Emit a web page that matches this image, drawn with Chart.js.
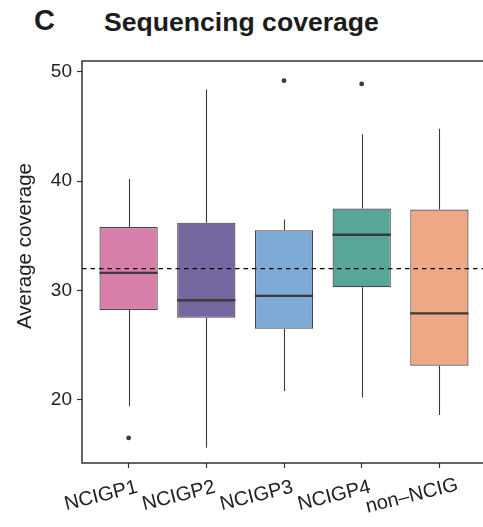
<!DOCTYPE html>
<html>
<head>
<meta charset="utf-8">
<script src="https://cdn.jsdelivr.net/npm/chart.js@4.4.1/dist/chart.umd.min.js"></script>
<style>
  html, body { margin: 0; padding: 0; background: #ffffff; overflow: hidden; }
  #wrap { position: relative; width: 483px; height: 527px; overflow: hidden; }
  #plot { position: absolute; left: 0; top: 0; width: 490px; height: 527px; }
  .tag, .heading {
    position: absolute; margin: 0; line-height: 1; white-space: nowrap;
    font-family: "Liberation Sans", Arial, Helvetica, sans-serif; font-weight: bold; color: #1c1c1c;
  }
  .tag { left: 34px; top: 6px; font-size: 29px; }
  .heading { left: 104px; top: 9px; font-size: 26.6px; }
</style>
</head>
<body>
<div id="wrap">
  <div class="tag">C</div>
  <div class="heading">Sequencing coverage</div>
  <div id="plot"><canvas id="chart" width="490" height="527"></canvas></div>
</div>
<script>
// Groups along the x axis
const categories = ['NCIGP1', 'NCIGP2', 'NCIGP3', 'NCIGP4', 'non\u2013NCIG'];

// Five-number summaries of average coverage per group
const whiskerLow  = [19.4, 15.6, 20.8, 20.2, 18.6];
const quartile1   = [28.2, 27.5, 26.5, 30.3, 23.1];
const medians     = [31.6, 29.1, 29.5, 35.1, 27.9];
const quartile3   = [35.8, 36.2, 35.5, 37.5, 37.4];
const whiskerHigh = [40.2, 48.4, 36.5, 44.3, 44.8];

// Points beyond the whiskers: group index and value
const outlierGroup = [0, 2, 3];
const outlierValue = [16.5, 49.2, 48.9];

// Overall mean coverage reference
const referenceLine = 32;

const yTicks = [20, 30, 40, 50];
const yTitle = 'Average coverage';
const fillColors = ['#D77FAA', '#7667A0', '#7EAAD6', '#58A59A', '#EFA885'];

const FONT = '"Liberation Sans", Arial, Helvetica, sans-serif';
const INK = '#3b3b3b';
const LABEL_ANGLE = 14 * Math.PI / 180;

// Whiskers, medians, the dashed reference line, the panel frame and axis texts
const boxExtras = {
  id: 'boxExtras',
  beforeDatasetsDraw(chart) {
    const { ctx, scales: { x, y } } = chart;
    ctx.save();
    ctx.strokeStyle = INK;
    ctx.lineWidth = 1.1;
    categories.forEach((_, i) => {
      const px = Math.round(x.getPixelForValue(i + 1)) + 0.5;
      ctx.beginPath();
      ctx.moveTo(px, y.getPixelForValue(whiskerHigh[i]));
      ctx.lineTo(px, y.getPixelForValue(quartile3[i]));
      ctx.moveTo(px, y.getPixelForValue(quartile1[i]));
      ctx.lineTo(px, y.getPixelForValue(whiskerLow[i]));
      ctx.stroke();
    });
    ctx.restore();
  },
  afterDatasetsDraw(chart) {
    const { ctx, chartArea: a, scales: { y } } = chart;
    const meta = chart.getDatasetMeta(0);
    ctx.save();
    ctx.strokeStyle = INK;
    ctx.lineWidth = 2.4;
    meta.data.forEach((bar, i) => {
      const half = bar.width / 2;
      const py = y.getPixelForValue(medians[i]);
      ctx.beginPath();
      ctx.moveTo(bar.x - half, py);
      ctx.lineTo(bar.x + half, py);
      ctx.stroke();
    });
    const ry = y.getPixelForValue(referenceLine);
    ctx.strokeStyle = '#000000';
    ctx.lineWidth = 1.2;
    ctx.setLineDash([4.5, 4]);
    ctx.beginPath();
    ctx.moveTo(a.left, ry);
    ctx.lineTo(a.right, ry);
    ctx.stroke();
    ctx.setLineDash([]);
    ctx.strokeStyle = '#333333';
    ctx.lineWidth = 1.5;
    ctx.strokeRect(a.left, a.top, a.right - a.left, a.bottom - a.top);
    ctx.restore();
  },
  afterDraw(chart) {
    const { ctx, chartArea: a, scales: { x } } = chart;
    ctx.save();
    ctx.fillStyle = '#222222';
    // y axis title
    ctx.save();
    ctx.translate(25, (a.top + a.bottom) / 2 - 16);
    ctx.rotate(-Math.PI / 2);
    ctx.textAlign = 'center';
    ctx.textBaseline = 'middle';
    ctx.font = '20.5px ' + FONT;
    ctx.fillText(yTitle, 0, 0);
    ctx.restore();
    // slanted group names under the x axis
    ctx.font = '20px ' + FONT;
    ctx.textAlign = 'center';
    ctx.textBaseline = 'middle';
    categories.forEach((name, i) => {
      ctx.save();
      ctx.translate(x.getPixelForValue(i + 1) - 27.5, a.bottom + 33);
      ctx.rotate(-LABEL_ANGLE);
      ctx.fillText(name, 0, 0);
      ctx.restore();
    });
    ctx.restore();
  }
};

new Chart(document.getElementById('chart'), {
  type: 'bar',
  data: {
    datasets: [
      {
        label: 'IQR',
        data: categories.map((_, i) => ({ x: i + 1, y: [quartile1[i], quartile3[i]] })),
        backgroundColor: fillColors,
        borderColor: '#474747',
        borderWidth: 1.2,
        borderSkipped: false,
        categoryPercentage: 1,
        barPercentage: 0.75,
        order: 2
      },
      {
        type: 'scatter',
        label: 'Outliers',
        data: outlierGroup.map((g, k) => ({ x: g + 1, y: outlierValue[k] })),
        pointRadius: 2.4,
        pointBackgroundColor: INK,
        pointBorderWidth: 0,
        order: 1
      }
    ]
  },
  options: {
    responsive: false,
    animation: false,
    devicePixelRatio: 1,
    layout: { padding: { left: 0, top: 61, right: 2.6, bottom: 0 } },
    plugins: { legend: { display: false }, tooltip: { enabled: false } },
    scales: {
      x: {
        type: 'linear',
        offset: false,
        min: 0.4,
        max: 5.6,
        afterBuildTicks: s => { s.ticks = categories.map((_, i) => ({ value: i + 1 })); },
        afterFit: s => { s.height = 64; },
        grid: { display: true, offset: false, drawOnChartArea: false, drawTicks: true, tickLength: 5, tickColor: '#333333', tickWidth: 1.2 },
        border: { display: false },
        ticks: { display: false }
      },
      y: {
        min: 14.2,
        max: 51,
        afterBuildTicks: s => { s.ticks = yTicks.map(v => ({ value: v })); },
        afterFit: s => { s.width = 82; },
        grid: { display: true, drawOnChartArea: false, drawTicks: true, tickLength: 5, tickColor: '#333333', tickWidth: 1.2 },
        border: { display: false },
        ticks: { padding: 5, color: '#222222', font: { family: FONT, size: 19 } },
        title: { display: false }
      }
    }
  },
  plugins: [boxExtras]
});
</script>
</body>
</html>
